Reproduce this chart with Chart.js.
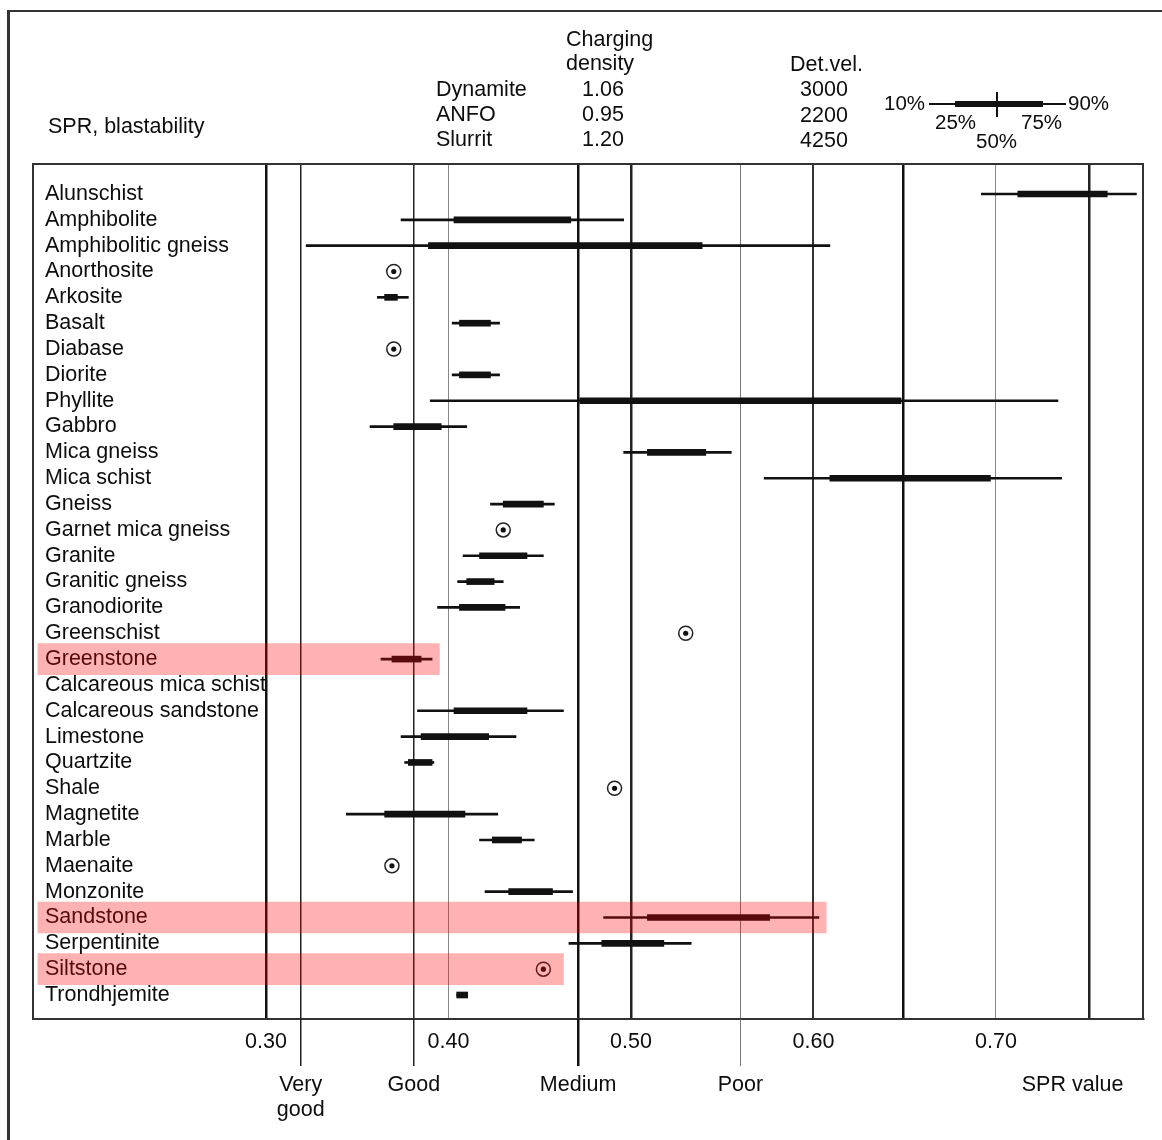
<!DOCTYPE html>
<html>
<head>
<meta charset="utf-8">
<title>SPR, blastability</title>
<script src="https://cdn.jsdelivr.net/npm/chart.js@4.4.1/dist/chart.umd.min.js"></script>
<style>
  html, body { margin: 0; padding: 0; background: #fff; overflow: hidden; }
  #wrap { position: relative; width: 1162px; height: 1140px; overflow: hidden; }
  #chart { position: absolute; left: 0; top: 0; }
  #frame { position: absolute; left: 7px; top: 10px; width: 1300px; height: 1300px;
           border-left: 3px solid #333; border-top: 2px solid #333; }
  #key { position: absolute; left: 0; top: 0; }
  .t { position: absolute; font: 21.5px 'Liberation Sans', Arial, sans-serif; color: #0d0d0d;
       white-space: nowrap; line-height: 1; }
  .k { font-size: 20.5px; }
</style>
</head>
<body>
<div id="wrap">
  <div id="frame"></div>
  <canvas id="chart" width="1162" height="1140"></canvas>
  <svg id="key" width="1162" height="160"></svg>
  <div id="header"></div>
</div>
<script>
// Rock types, top to bottom
const categories = [
  'Alunschist', 'Amphibolite', 'Amphibolitic gneiss', 'Anorthosite', 'Arkosite',
  'Basalt', 'Diabase', 'Diorite', 'Phyllite', 'Gabbro', 'Mica gneiss', 'Mica schist',
  'Gneiss', 'Garnet mica gneiss', 'Granite', 'Granitic gneiss', 'Granodiorite',
  'Greenschist', 'Greenstone', 'Calcareous mica schist', 'Calcareous sandstone',
  'Limestone', 'Quartzite', 'Shale', 'Magnetite', 'Marble', 'Maenaite', 'Monzonite',
  'Sandstone', 'Serpentinite', 'Siltstone', 'Trondhjemite'
];

// SPR percentiles per rock type (null = no distribution)
const p10 = [0.692, 0.374, 0.322, null, 0.361, 0.402, null, 0.402, 0.390, 0.357, 0.496, 0.573,
             0.423, null, 0.408, 0.405, 0.394, null, 0.363, null, 0.383, 0.374, 0.376, null,
             0.344, 0.417, null, 0.420, 0.485, 0.466, null, 0.4045];
const p25 = [0.712, 0.403, 0.389, null, 0.365, 0.406, null, 0.406, 0.472, 0.370, 0.509, 0.609,
             0.430, null, 0.417, 0.410, 0.406, null, 0.369, null, 0.403, 0.385, 0.378, null,
             0.365, 0.424, null, 0.433, 0.509, 0.484, null, 0.4045];
const p75 = [0.761, 0.467, 0.539, null, 0.372, 0.423, null, 0.423, 0.648, 0.396, 0.541, 0.697,
             0.452, null, 0.443, 0.425, 0.431, null, 0.385, null, 0.443, 0.422, 0.391, null,
             0.409, 0.440, null, 0.457, 0.576, 0.518, null, 0.4105];
const p90 = [0.777, 0.496, 0.609, null, 0.378, 0.428, null, 0.428, 0.734, 0.410, 0.555, 0.736,
             0.458, null, 0.452, 0.430, 0.439, null, 0.391, null, 0.463, 0.437, 0.392, null,
             0.427, 0.447, null, 0.468, 0.603, 0.533, null, 0.4105];

// Rock types with a single SPR value
const singleValue = [null, null, null, 0.370, null, null, 0.370, null, null, null, null, null,
                     null, 0.430, null, null, null, 0.530, null, null, null, null, null, 0.491,
                     null, null, 0.369, null, null, null, 0.452, null];

// Axis values and classes
const tickValues = [0.30, 0.40, 0.50, 0.60, 0.70];
const classBoundaries = [0.319, 0.381, 0.471, 0.560];
const classLabels = [['Very', 'good'], 'Good', 'Medium', 'Poor'];
const limitLines = [0.649, 0.751];
const axisName = 'SPR value';
const axisNameAt = 0.742;

// Highlighted rows and the SPR span each band covers
const highlightRows = ['Greenstone', 'Sandstone', 'Siltstone'];
const highlightFrom = 0.175;
const highlightTo = [0.395, 0.607, 0.463];

// Explosive table in the header
const explosives = ['Dynamite', 'ANFO', 'Slurrit'];
const chargingDensity = ['1.06', '0.95', '1.20'];
const detonationVelocity = ['3000', '2200', '4250'];
const keyPercentiles = ['10%', '25%', '50%', '75%', '90%'];

// ---- styles ----
const INK = '#111';
const TEXT = '#0d0d0d';
const LINE_STYLES = {
  '0.3': [2.5, '#111'], '0.319': [1.5, '#222'], '0.381': [1.5, '#222'], '0.4': [1, '#888'],
  '0.471': [2.5, '#111'], '0.5': [2.5, '#222'], '0.56': [1, '#777'], '0.6': [2, '#333'],
  '0.649': [2.5, '#111'], '0.7': [1, '#888'], '0.751': [2.5, '#222']
};
const FONT = { family: "'Liberation Sans', Arial, sans-serif", size: 21.5 };
const X_MIN = 0.1723, X_MAX = 0.7806;
const Y_MIN = -1.161, Y_MAX = 31.929;

const gridValues = [...tickValues, ...classBoundaries, ...limitLines].sort((a, b) => a - b);

const whiskerData = [], boxData = [], pointData = [];
categories.forEach((name, i) => {
  if (p10[i] != null) {
    whiskerData.push({ y: i, x: [p10[i], p90[i]] });
    boxData.push({ y: i, x: [p25[i], p75[i]] });
  }
  if (singleValue[i] != null) pointData.push({ x: singleValue[i], y: i });
});
const highlightData = highlightRows.map((name, k) => ({
  y: categories.indexOf(name), x: [highlightFrom, highlightTo[k]]
}));

function alignPx(px, w) {
  return Math.round(px - w / 2) + w / 2;
}

// extends the class boundary lines below the plot, down to the class names
const classTicks = {
  id: 'classTicks',
  afterDraw(chart) {
    const { ctx, chartArea, scales } = chart;
    ctx.save();
    classBoundaries.forEach(v => {
      const [w, c] = LINE_STYLES[String(v)];
      const px = alignPx(scales.x.getPixelForValue(v), w);
      ctx.beginPath();
      ctx.lineWidth = w;
      ctx.strokeStyle = c;
      ctx.moveTo(px, chartArea.bottom);
      ctx.lineTo(px, scales.xc.top + 1);
      ctx.stroke();
    });
    ctx.restore();
  }
};

const bandBar = {
  type: 'bar', indexAxis: 'y', grouped: false,
  categoryPercentage: 1, barPercentage: 1, borderWidth: 0,
  xAxisID: 'x', yAxisID: 'y'
};

const frameBorder = { display: true, width: 2, color: '#333' };
const noGrid = { display: false, drawTicks: false, offset: false };

new Chart(document.getElementById('chart'), {
  type: 'scatter',
  data: {
    datasets: [
      { ...bandBar, label: 'Highlight', data: highlightData, barThickness: 31,
        backgroundColor: 'rgba(255,0,0,0.30)', order: 0 },
      { type: 'scatter', label: 'Value dot', data: pointData, pointStyle: 'circle',
        pointRadius: 2.6, pointBorderWidth: 0, pointBackgroundColor: INK, order: 1 },
      { type: 'scatter', label: 'Value', data: pointData, pointStyle: 'circle',
        pointRadius: 7, pointBorderWidth: 1.5, pointBorderColor: '#222',
        pointBackgroundColor: '#fff', order: 2 },
      { ...bandBar, label: '25%-75%', data: boxData, barThickness: 6,
        backgroundColor: INK, order: 3 },
      { ...bandBar, label: '10%-90%', data: whiskerData, barThickness: 2,
        backgroundColor: INK, order: 4 }
    ]
  },
  options: {
    responsive: false,
    animation: false,
    events: [],
    layout: { padding: { left: 33, right: 19, top: 164, bottom: 10 } },
    plugins: { legend: { display: false }, tooltip: { enabled: false }, title: { display: false } },
    scales: {
      x: {
        type: 'linear', position: 'bottom', min: X_MIN, max: X_MAX, offset: false,
        stacked: false, weight: 0,
        afterBuildTicks: s => { s.ticks = gridValues.map(v => ({ value: v })); },
        afterFit: s => { s.height = 46; },
        grid: {
          display: true, drawTicks: false, offset: false, drawOnChartArea: true,
          lineWidth: c => (LINE_STYLES[String(c.tick && c.tick.value)] || [0])[0],
          color: c => (LINE_STYLES[String(c.tick && c.tick.value)] || [0, 'rgba(0,0,0,0)'])[1]
        },
        border: frameBorder,
        ticks: {
          autoSkip: false, maxRotation: 0, minRotation: 0, padding: 10,
          font: FONT, color: TEXT,
          callback: v => tickValues.includes(v) ? v.toFixed(2) : ''
        }
      },
      xc: {
        type: 'linear', position: 'bottom', min: X_MIN, max: X_MAX, offset: false, weight: 1,
        afterBuildTicks: s => {
          s.ticks = [...classBoundaries, axisNameAt].map(v => ({ value: v }));
        },
        afterFit: s => { s.height = 65; },
        grid: noGrid,
        border: { display: false },
        ticks: {
          autoSkip: false, maxRotation: 0, minRotation: 0, padding: 7,
          font: { ...FONT, lineHeight: 1.18 }, color: TEXT,
          callback: (v, i) => [...classLabels, axisName][i]
        }
      },
      xt: {
        type: 'linear', position: 'top', min: X_MIN, max: X_MAX, offset: false,
        grid: noGrid, ticks: { display: false }, border: frameBorder
      },
      y: {
        type: 'linear', position: 'left', reverse: true, min: Y_MIN, max: Y_MAX, offset: false,
        afterBuildTicks: s => { s.ticks = categories.map((c, i) => ({ value: i })); },
        afterFit: s => { s.width = 0; },
        grid: noGrid,
        border: frameBorder,
        ticks: {
          mirror: true, padding: 12, autoSkip: false, crossAlign: 'near',
          font: FONT, color: TEXT,
          callback: v => categories[v]
        }
      },
      yr: {
        type: 'linear', position: 'right', min: Y_MIN, max: Y_MAX, offset: false,
        afterFit: s => { s.width = 0; },
        grid: noGrid, ticks: { display: false }, border: frameBorder
      }
    }
  },
  plugins: [classTicks]
});

// ---- header: explosive table and percentile key ----
const header = document.getElementById('header');
function place(text, x, y, align, cls) {
  const el = document.createElement('div');
  el.className = 't' + (cls ? ' ' + cls : '');
  el.textContent = text;
  el.style.left = x + 'px';
  el.style.top = y + 'px';
  el.style.transform = align === 'center' ? 'translate(-50%,-50%)' : 'translate(0,-50%)';
  header.appendChild(el);
}
place('SPR, blastability', 48, 127, 'left');
place('Charging', 566, 40, 'left');
place('density', 566, 64, 'left');
place('Det.vel.', 790, 65, 'left');
const tableRowsY = [90, 115, 140];
explosives.forEach((e, i) => {
  place(e, 436, tableRowsY[i], 'left');
  place(chargingDensity[i], 603, tableRowsY[i], 'center');
  place(detonationVelocity[i], 824, tableRowsY[i] + i * 0.5, 'center');
});
const keyPos = [[884, 103], [935, 122], [976, 141], [1021, 122], [1068, 103]];
keyPercentiles.forEach((p, i) => place(p, keyPos[i][0], keyPos[i][1], 'left', 'k'));

const svgNS = 'http://www.w3.org/2000/svg';
const key = document.getElementById('key');
function seg(x1, y1, x2, y2, w) {
  const l = document.createElementNS(svgNS, 'line');
  l.setAttribute('x1', x1); l.setAttribute('y1', y1);
  l.setAttribute('x2', x2); l.setAttribute('y2', y2);
  l.setAttribute('stroke', INK); l.setAttribute('stroke-width', w);
  key.appendChild(l);
}
seg(929, 104, 1066, 104, 2);
seg(955, 104, 1043, 104, 6);
seg(997, 92, 997, 117, 2);
</script>
</body>
</html>
